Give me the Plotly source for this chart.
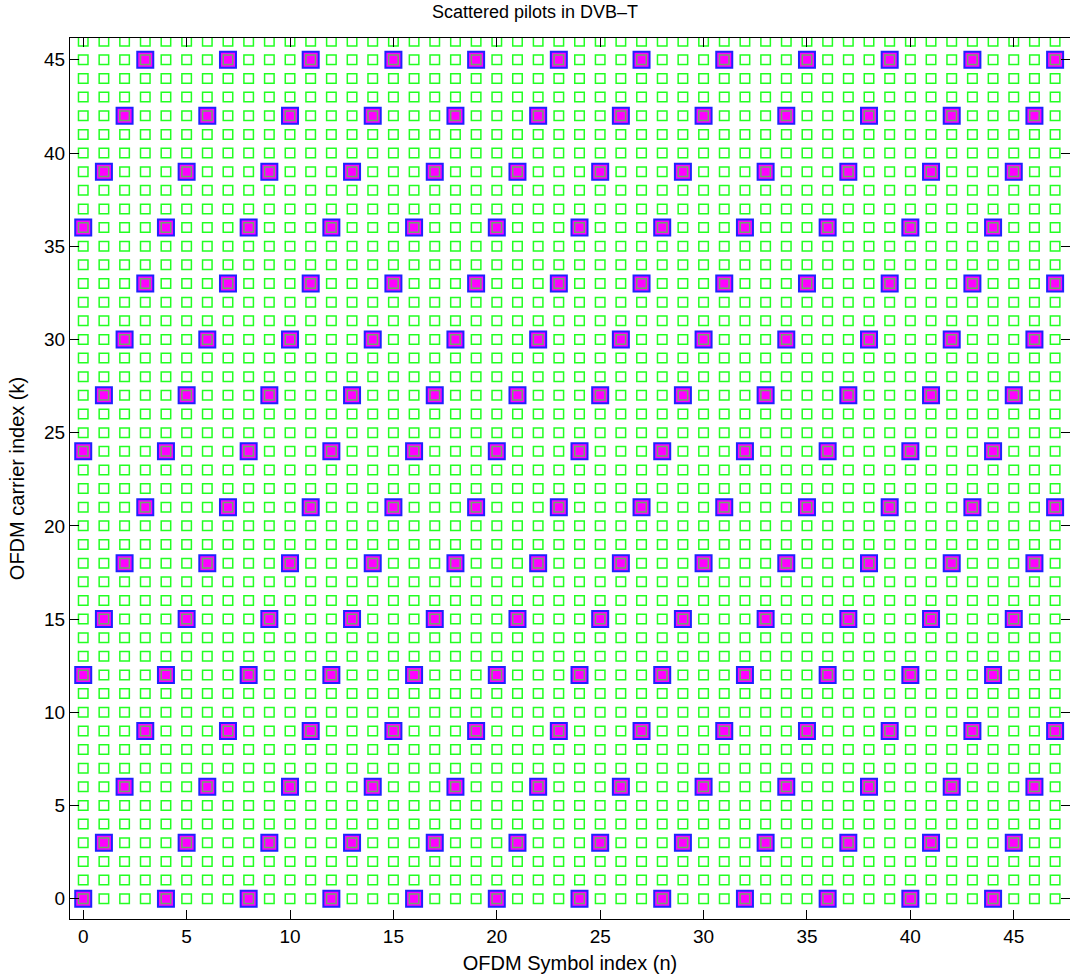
import plotly.graph_objects as go

# Categories: OFDM symbol indices (n) and carrier indices (k)
symbols = list(range(48))
carriers = list(range(47))

# Scattered pilot carriers for each symbol phase (n mod 4)
pilot_carriers_by_phase = {
    0: [0, 12, 24, 36],
    1: [3, 15, 27, 39],
    2: [6, 18, 30, 42],
    3: [9, 21, 33, 45],
}

x_ticks = [0, 5, 10, 15, 20, 25, 30, 35, 40, 45]
y_ticks = [0, 5, 10, 15, 20, 25, 30, 35, 40, 45]

# Build grid and pilot point lists from the arrays above
grid_n = [n for n in symbols for k in carriers]
grid_k = [k for n in symbols for k in carriers]
pilot_n = [n for n in symbols for k in pilot_carriers_by_phase[n % 4]]
pilot_k = [k for n in symbols for k in pilot_carriers_by_phase[n % 4]]

fig = go.Figure()
fig.add_trace(go.Scatter(
    x=grid_n, y=grid_k, mode="markers",
    marker=dict(symbol="square-open", size=9.5, color="#22ff22",
                line=dict(width=1.5, color="#22ff22")),
    showlegend=False, hoverinfo="skip"))
fig.add_trace(go.Scatter(
    x=pilot_n, y=pilot_k, mode="markers",
    marker=dict(symbol="square", size=16, color="#ff00ff",
                line=dict(width=2, color="#2020ff")),
    showlegend=False, hoverinfo="skip"))
fig.add_trace(go.Scatter(
    x=pilot_n, y=pilot_k, mode="markers",
    marker=dict(symbol="square-open", size=9.5, color="rgb(110,165,110)",
                line=dict(width=1.5, color="rgb(110,165,110)")),
    showlegend=False, hoverinfo="skip"))

font_family = "Liberation Sans, Arial, sans-serif"
fig.update_layout(
    width=1070, height=980,
    margin=dict(l=70, r=0, t=38, b=61, autoexpand=False),
    paper_bgcolor="white", plot_bgcolor="white",
    font=dict(family=font_family, color="black", size=19),
    title=dict(text="Scattered pilots in DVB\u2013T", x=0.5, xanchor="center",
               y=1 - 12 / 980, yanchor="middle",
               font=dict(size=18, family=font_family)),
    xaxis=dict(range=[-0.64, 47.72], tickvals=x_ticks, ticks="inside", ticklen=9,
               tickcolor="black", showline=True, linecolor="black", linewidth=1,
               mirror="ticks", showgrid=False, zeroline=False, automargin=False,
               title=dict(text="OFDM Symbol index (n)", font=dict(size=20), standoff=10),
               tickfont=dict(size=19)),
    yaxis=dict(range=[-1.09, 46.17], tickvals=y_ticks, ticks="inside", ticklen=9,
               tickcolor="black", showline=True, linecolor="black", linewidth=1,
               mirror="ticks", showgrid=False, zeroline=False, automargin=False,
               title=dict(text="OFDM carrier index (k)", font=dict(size=20), standoff=14),
               tickfont=dict(size=19)),
)

fig.write_html("out.html", config={"displayModeBar": False},
               post_script="document.body.style.margin='0';document.body.style.overflow='hidden';")
